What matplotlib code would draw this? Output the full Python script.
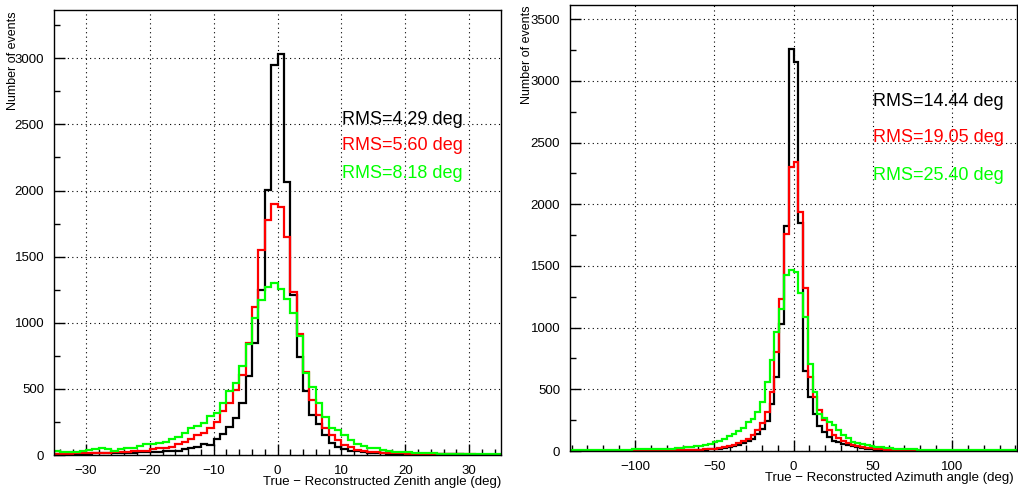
import numpy as np
import matplotlib
matplotlib.use("Agg")
import matplotlib.pyplot as plt
from matplotlib.ticker import MultipleLocator

plt.rcParams["font.family"] = ["Liberation Sans", "DejaVu Sans"]

# ── zenith residuals: 1 deg bins from -35 to 35 ──────────────────────────────
zen_edges = np.arange(-35, 36, 1)
zen_black = [8, 8, 9, 9, 10, 11, 12, 12, 13, 14, 15, 16, 18, 20, 22, 24, 26, 28, 31, 34,
             43, 50, 63, 83, 76, 118, 156, 214, 282, 396, 597, 845, 1248, 2004, 2950,
             3033, 2065, 1210, 744, 484, 302, 232, 151, 93, 63, 43, 33, 27, 22, 18,
             15, 13, 11, 10, 9, 8, 7, 6, 6, 5, 5, 4, 4, 4, 3, 3, 3, 3, 2, 2]
zen_red = [10, 10, 11, 12, 13, 14, 15, 17, 18, 20, 22, 25, 28, 30, 33, 43, 50, 55, 63, 81,
           101, 118, 151, 164, 202, 252, 335, 391, 492, 605, 845, 1117, 1550, 1777, 1898,
           1878, 1651, 1230, 913, 630, 416, 302, 202, 151, 113, 76, 58, 38, 33, 25,
           22, 18, 15, 13, 12, 10, 9, 8, 7, 6, 6, 5, 5, 4, 4, 4, 3, 3, 3, 3]
zen_green = [33, 20, 20, 25, 33, 38, 45, 50, 43, 33, 43, 50, 55, 68, 81, 81, 93, 101, 118, 139,
             169, 202, 219, 245, 295, 315, 391, 487, 542, 673, 837, 1034, 1172, 1268, 1298,
             1253, 1180, 1071, 900, 618, 517, 391, 285, 207, 189, 151, 113, 81, 71, 50,
             50, 38, 33, 25, 25, 20, 18, 15, 13, 12, 10, 8, 7, 6, 5, 5, 5, 4, 4, 4]
zen_rms = ["RMS=4.29 deg", "RMS=5.60 deg", "RMS=8.18 deg"]

# ── azimuth residuals: 3 deg bins from -141 to 141 (47 below zero, 47 above) ─
azi_edges = np.arange(-141, 142, 3)
azi_black_neg = [2, 2, 2, 2, 2, 2, 2, 2, 2, 2, 2, 3, 3, 3, 3, 3, 3, 3, 3,
                 4, 4, 4, 4, 5, 5, 6, 7, 8, 10, 13, 16, 20, 26, 32, 40, 50, 62, 80, 100,
                 135, 180, 240, 380, 600, 1030, 1820, 3260]
azi_black_pos = [3150, 1850, 650, 440, 300, 200, 150, 110, 85, 70, 55, 45, 38, 30, 25, 20,
                 16, 12, 10, 8, 7, 6, 5, 5, 4, 4, 3, 3, 3, 2, 2, 2, 2, 2, 2, 2,
                 2, 2, 2, 2, 2, 2, 2, 2, 2, 2, 2]
azi_red_neg = [2, 2, 2, 2, 2, 2, 2, 2, 2, 3, 3, 3, 3, 3, 3, 3, 3, 4, 4, 4, 4,
               5, 5, 6, 7, 8, 9, 11, 13, 16, 20, 26, 32, 40, 50, 62, 80, 100, 130, 170, 230,
               320, 480, 800, 1235, 1760, 2300]
azi_red_pos = [2340, 1940, 1320, 600, 440, 330, 250, 170, 130, 105, 80, 65, 50, 42, 35, 28,
               22, 17, 14, 11, 9, 8, 7, 6, 5, 5, 4, 4, 3, 3, 3, 3, 2, 2, 2, 2,
               2, 2, 2, 2, 2, 2, 2, 2, 2, 2, 2]
azi_green_neg = [8, 8, 8, 9, 9, 9, 10, 10, 10, 11, 11, 12, 12, 13, 13, 14, 14,
                 15, 16, 17, 18, 20, 22, 25, 30, 36, 40, 42, 48, 60, 70, 85, 100, 118, 135, 165, 190,
                 235, 260, 320, 400, 560, 735, 965, 1154, 1424, 1470]
azi_green_pos = [1450, 1280, 1086, 708, 480, 300, 265, 238, 211, 170, 130, 103, 76, 62, 57, 50,
                 43, 35, 30, 27, 22, 19, 17, 15, 14, 13, 12, 12, 11, 10, 10, 9, 9, 8, 8, 8,
                 7, 7, 7, 6, 6, 6, 5, 5, 5, 5, 5]
azi_black = azi_black_neg + azi_black_pos
azi_red = azi_red_neg + azi_red_pos
azi_green = azi_green_neg + azi_green_pos
azi_rms = ["RMS=14.44 deg", "RMS=19.05 deg", "RMS=25.40 deg"]

COLORS = ["#000000", "#ff0000", "#00ff00"]
W, H = 1018, 492


def px_axes(fig, left, top, right, bottom):
    return fig.add_axes([left / W, 1 - bottom / H, (right - left) / W, (bottom - top) / H])


def style(ax, xmajor, xminor, ymax):
    ax.set_ylim(0, ymax)
    ax.xaxis.set_major_locator(MultipleLocator(xmajor))
    ax.xaxis.set_minor_locator(MultipleLocator(xminor))
    ax.yaxis.set_major_locator(MultipleLocator(500))
    ax.yaxis.set_minor_locator(MultipleLocator(250))
    ax.tick_params(which="both", direction="in", top=False, right=False,
                   labelsize=9.5, pad=7)
    ax.tick_params(which="major", length=8, width=1)
    ax.tick_params(which="minor", length=4, width=1)
    ax.grid(True, which="major", color="black", linestyle=(0, (1, 3)), linewidth=0.8)
    ax.set_axisbelow(True)
    for s in ax.spines.values():
        s.set_linewidth(1.0)


fig = plt.figure(figsize=(W / 100, H / 100), dpi=100)
fig.patch.set_facecolor("white")

# left: zenith
ax1 = px_axes(fig, 54, 10, 501, 455)
for vals, c in zip([zen_black, zen_red, zen_green], COLORS):
    ax1.stairs(vals, zen_edges, color=c, linewidth=1.6)
ax1.set_xlim(-35, 35)
style(ax1, 10, 2, 3365)
for i, (txt, c) in enumerate(zip(zen_rms, COLORS)):
    fig.text(342 / W, 1 - [120, 146, 173][i] / H, txt, color=c, fontsize=13,
             va="center", ha="left")
fig.text(501 / W, 1 - 482 / H, "True \u2212 Reconstructed Zenith angle (deg)",
         fontsize=9.5, ha="right", va="center")
fig.text(13 / W, 1 - 11 / H, "Number of events", fontsize=9, rotation=90,
         ha="center", va="top")

# right: azimuth
ax2 = px_axes(fig, 570, 5, 1017, 451)
for vals, c in zip([azi_black, azi_red, azi_green], COLORS):
    ax2.stairs(vals, azi_edges, color=c, linewidth=1.6)
ax2.set_xlim(-141, 141)
style(ax2, 50, 10, 3615)
for i, (txt, c) in enumerate(zip(azi_rms, COLORS)):
    fig.text(873 / W, 1 - [101, 137, 175][i] / H, txt, color=c, fontsize=13,
             va="center", ha="left")
fig.text(1014 / W, 1 - 478 / H, "True \u2212 Reconstructed Azimuth angle (deg)",
         fontsize=9.5, ha="right", va="center")
fig.text(527 / W, 1 - 5 / H, "Number of events", fontsize=9, rotation=90,
         ha="center", va="top")

fig.savefig("out.png", dpi=100, facecolor="white")
